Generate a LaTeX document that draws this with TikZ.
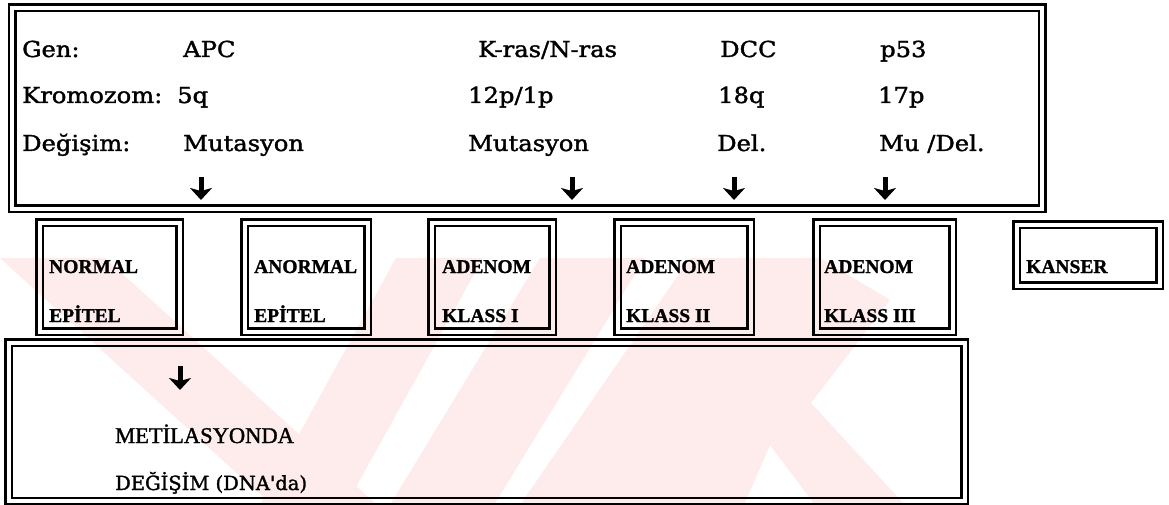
\documentclass[tikz,border=0pt]{standalone}
\usepackage{fontspec}
\setmainfont{DejaVu Serif}
\newfontfamily\topfont[FakeStretch=1.10,FakeBold=1.6]{DejaVu Serif}
\newfontfamily\plainfont[FakeBold=1.6]{DejaVu Serif}
\newfontfamily\boxfont[FakeBold=1.2]{Liberation Serif}
\newfontfamily\metfont[FakeBold=1.4]{Liberation Serif}
\usetikzlibrary{arrows.meta}
\definecolor{wm}{RGB}{254,236,236}
\begin{document}
\begin{tikzpicture}[x=1pt,y=-1pt,
  dbox/.style={draw, line width=2.4pt, double=white, double distance=4.2pt, inner sep=0pt, anchor=north west},
  toplbl/.style={anchor=base west, inner sep=0pt, font=\topfont\fontsize{22}{26}\selectfont},
  stagelbl/.style={anchor=base west, inner sep=0pt, font=\boxfont\bfseries\fontsize{19.5}{22}\selectfont},
  metlbl/.style={anchor=base west, inner sep=0pt, font=\metfont\fontsize{22.5}{26}\selectfont},
  deglbl/.style={anchor=base west, inner sep=0pt, font=\plainfont\fontsize{19.5}{22}\selectfont},
  darr/.style={line width=5pt, -{Stealth[length=12pt,width=22pt,inset=3pt]}},
]
\useasboundingbox (0,0) rectangle (1169,505);
\fill[white] (0,0) rectangle (1169,505);

% top box
\node[dbox, minimum width=1030pt, minimum height=201pt] (top) at (11,6.5) {};
\node[toplbl] (gen) at (22,57) {Gen:};
\node[toplbl] (apc) at (183,57) {APC};
\node[toplbl] (kras) at (478,57) {K-ras/N-ras};
\node[toplbl] (dcc) at (720,57) {DCC};
\node[toplbl] (p53) at (880,57) {p53};
\node[toplbl] (krom) at (22,103) {Kromozom:};
\node[toplbl] (k5q) at (177,103) {5q};
\node[toplbl] (k12p) at (468,103) {12p/1p};
\node[toplbl] (k18q) at (718,103) {18q};
\node[toplbl] (k17p) at (878,103) {17p};
\node[toplbl] (deg) at (22,151) {Değişim:};
\node[toplbl] (mut1) at (183,151) {Mutasyon};
\node[toplbl] (mut2) at (468,151) {Mutasyon};
\node[toplbl] (del) at (717,151) {Del.};
\node[toplbl] (mudel) at (879,151) {Mu /Del.};

\coordinate (a1s) at (201,177); \coordinate (a1e) at (201,200);
\coordinate (a2s) at (572,177); \coordinate (a2e) at (572,200);
\coordinate (a3s) at (734,177); \coordinate (a3e) at (734,200);
\coordinate (a4s) at (885,177); \coordinate (a4e) at (885,200);
\draw[darr] (a1s) -- (a1e);
\draw[darr] (a2s) -- (a2e);
\draw[darr] (a3s) -- (a3e);
\draw[darr] (a4s) -- (a4e);

% stage boxes
\node[dbox, minimum width=140pt, minimum height=109pt] (normal) at (38.5,221.5) {};
\node[dbox, minimum width=123pt, minimum height=109pt] (anormal) at (243.5,221.5) {};
\node[dbox, minimum width=121pt, minimum height=109pt] (aden1) at (430.5,221.5) {};
\node[dbox, minimum width=133pt, minimum height=109pt] (aden2) at (616.5,221.5) {};
\node[dbox, minimum width=136pt, minimum height=109pt] (aden3) at (815.5,221.5) {};
\node[dbox, minimum width=143pt, minimum height=61pt] (kanser) at (1015.5,223.5) {};

\node[stagelbl] (t1a) at (49,273) {NORMAL};
\node[stagelbl] (t1b) at (49,322) {EPİTEL};
\node[stagelbl] (t2a) at (254,273) {ANORMAL};
\node[stagelbl] (t2b) at (254,322) {EPİTEL};
\node[stagelbl] (t3a) at (442,273) {ADENOM};
\node[stagelbl] (t3b) at (442,322) {KLASS I};
\node[stagelbl] (t4a) at (626,273) {ADENOM};
\node[stagelbl] (t4b) at (626,322) {KLASS II};
\node[stagelbl] (t5a) at (824,273) {ADENOM};
\node[stagelbl] (t5b) at (824,322) {KLASS III};
\node[stagelbl] (t6) at (1026,273) {KANSER};

% bottom box
\node[dbox, minimum width=956pt, minimum height=158.5pt] (bot) at (7.5,341.5) {};
\coordinate (b1s) at (180,366); \coordinate (b1e) at (180,390);
\draw[darr] (b1s) -- (b1e);
\node[metlbl] (met) at (115,443) {METİLASYONDA};
\node[deglbl] (degdna) at (115,490) {DEĞİŞİM (DNA'da)};

% faint watermark
\begin{scope}[blend mode=multiply]
\fill[wm]
  (0,258) -- (105,258) -- (377,505) -- (272,505) -- cycle
  (396,258) -- (483,258) -- (346,505) -- (260,505) -- cycle
  (540,258) -- (645,258) -- (494,505) -- (390,505) -- cycle
  (690,258) -- (820,258) -- (651,505) -- (520,505) -- cycle
  (651,505) -- (820,258) -- (890,300) -- (811,403) -- (905,505) -- (815,505) -- (770,445) -- (744,505) -- cycle;
\end{scope}
\end{tikzpicture}
\end{document}
